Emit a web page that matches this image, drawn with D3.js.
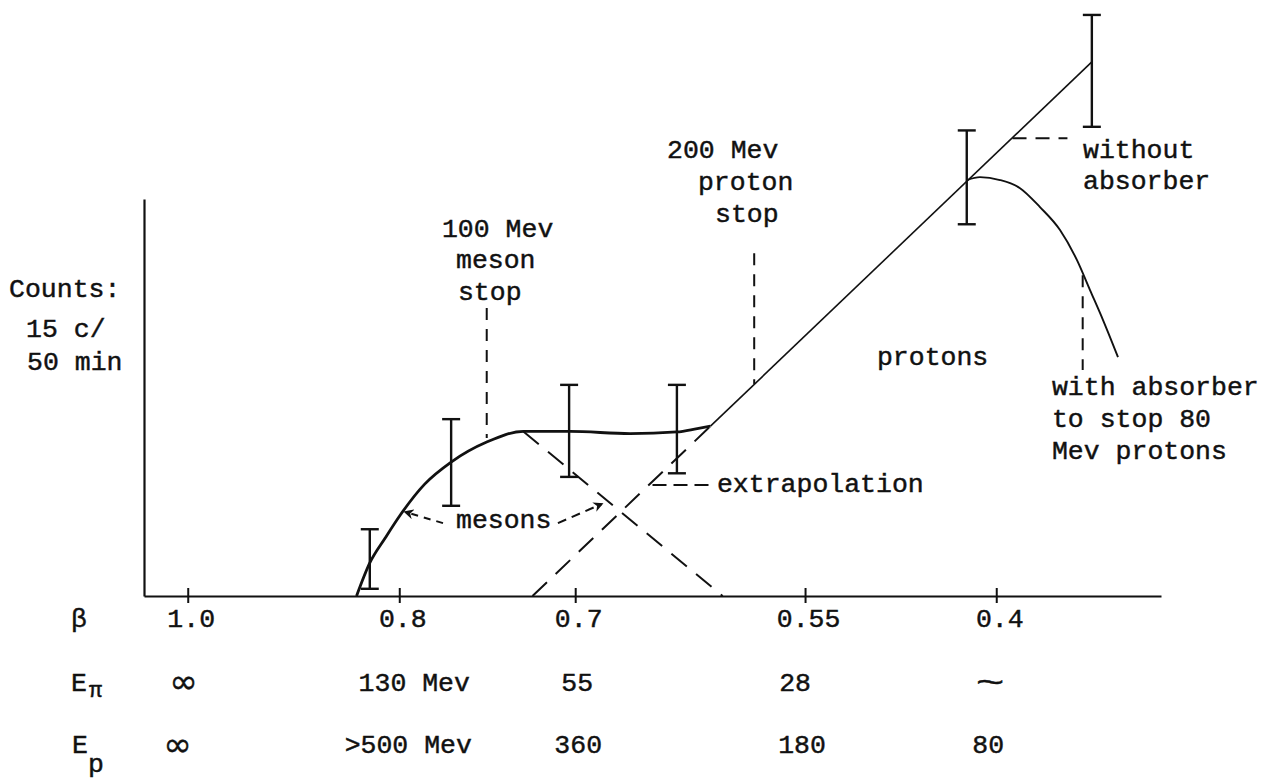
<!DOCTYPE html>
<html>
<head>
<meta charset="utf-8">
<script src="https://cdn.jsdelivr.net/npm/d3@7"></script>
<style>
  html, body { margin: 0; padding: 0; background: #fff; }
  svg { display: block; }
  text { font-family: "Liberation Mono", "DejaVu Sans Mono", monospace; fill: #111; stroke: #111; stroke-width: 0.45px; }
</style>
</head>
<body>
<svg id="chart" width="1266" height="779"></svg>
<script>
// ---------- DATA ----------
// x: absorber position (arbitrary units), y: counts per 50 min
const xTickVals   = [4.3, 25.1, 42.4, 65.0, 83.8];
const betaLabels  = ["1.0", "0.8", "0.7", "0.55", "0.4"];
const ePiLabels   = ["∞", "130 Mev", "55", "28", "~"];
const ePLabels    = ["∞", ">500 Mev", "360", "180", "80"];

// error bars
const ebX  = [22.2, 30.2, 41.8, 52.4, 80.9, 93.2];
const ebLo = [0.4, 5.0, 6.6, 6.8, 20.6, 26.0];
const ebHi = [3.7, 9.8, 11.7, 11.7, 25.8, 32.2];

// meson curve (solid, thick)
const mesonX = [20.9, 22.2, 23.7, 25.2, 27.6, 30.2, 33.7, 37.3, 41.9, 47.8, 52.4, 54.4, 55.7];
const mesonY = [0.0, 1.83, 3.2, 4.49, 6.2, 7.42, 8.53, 9.12, 9.12, 9.0, 9.09, 9.28, 9.41];

// meson extrapolation (dashed)
const mesonExtX = [37.3, 56.9];
const mesonExtY = [9.12, 0.0];

// proton line: dashed extrapolation then solid "without absorber"
const protonExtX = [38.2, 55.7];
const protonExtY = [0.0, 9.41];
const protonX = [55.7, 93.2];
const protonY = [9.41, 29.6];

// "with absorber" curve
const absX = [80.92, 82.2, 84.17, 86.14, 88.1, 90.07, 91.74, 93.02, 94.3, 95.77];
const absY = [23.05, 23.21, 23.05, 22.6, 21.55, 20.28, 18.61, 16.95, 15.29, 13.24];

// ---------- SETUP ----------
const svg = d3.select("#chart");
svg.append("rect").attr("width", 1266).attr("height", 779).attr("fill", "#fff");

const x = d3.scaleLinear().domain([0, 100]).range([144, 1161]);
const y = d3.scaleLinear().domain([0, 22]).range([596, 199]);
const FS = 26.5;
const ink = "#111";

const zip = (xs, ys) => xs.map((d, i) => [d, ys[i]]);
const line = d3.line().x(d => x(d[0])).y(d => y(d[1]));
const smooth = d3.line().x(d => x(d[0])).y(d => y(d[1])).curve(d3.curveMonotoneX);

// ---------- AXES ----------
const xAxis = d3.axisBottom(x).tickValues(xTickVals)
  .tickFormat((d, i) => betaLabels[i]).tickSizeInner(7).tickSizeOuter(0);
const gx = svg.append("g").attr("transform", `translate(0,${y(0)})`).call(xAxis);
gx.select(".domain").attr("stroke", ink).attr("stroke-width", 2.2);
gx.selectAll(".tick line").attr("stroke", ink).attr("stroke-width", 2).attr("y1", -8).attr("y2", 7);
gx.selectAll(".tick text").attr("y", 31).attr("dy", 0).attr("dx", 3)
  .style("font-size", FS + "px").style("font-family", '"Liberation Mono", monospace').attr("fill", ink);

const yAxis = d3.axisLeft(y).tickValues([]).tickSizeOuter(0);
const gy = svg.append("g").attr("transform", `translate(${x(0)},0)`).call(yAxis);
gy.select(".domain").attr("stroke", ink).attr("stroke-width", 2.2);

// ---------- ROW LABELS BELOW AXIS ----------
const rows = svg.append("g").style("font-size", FS + "px");
rows.append("text").attr("x", 71).attr("y", y(0) + 31).text("β");
rows.append("text").attr("x", 71).attr("y", y(0) + 95).text("E");
rows.append("text").attr("x", 89).attr("y", y(0) + 101).style("font-size", "22px").text("π");
rows.append("text").attr("x", 72).attr("y", y(0) + 157).text("E");
rows.append("text").attr("x", 88).attr("y", y(0) + 176).text("p");

const ePiDx = [-4, 15, 2, -10, -6];
const ePDx  = [-10, 9, 3, -3, -8];
ePiLabels.forEach((t, i) => {
  const el = rows.append("text").attr("text-anchor", "middle")
    .attr("x", x(xTickVals[i]) + ePiDx[i]).attr("y", y(0) + 95);
  if (t === "∞") el.style("font-family", '"DejaVu Sans", sans-serif').style("font-size", "34px").attr("y", y(0) + 97).text(t);
  else if (t === "~") el.attr("transform", `translate(${x(xTickVals[i]) + ePiDx[i]},${y(0) + 96}) scale(1.6,1)`)
    .attr("x", 0).attr("y", 0).style("font-size", "30px").text(t);
  else el.text(t);
});
ePLabels.forEach((t, i) => {
  const el = rows.append("text").attr("text-anchor", "middle")
    .attr("x", x(xTickVals[i]) + ePDx[i]).attr("y", y(0) + 157);
  if (t === "∞") el.style("font-family", '"DejaVu Sans", sans-serif').style("font-size", "34px").attr("y", y(0) + 160).text(t);
  else el.text(t);
});

// ---------- MARKS ----------
const plot = svg.append("g").attr("fill", "none").attr("stroke", ink);

// dashed extrapolations
plot.append("path").attr("d", line(zip(mesonExtX, mesonExtY)))
  .attr("stroke-width", 2).attr("stroke-dasharray", "20,12");
plot.append("path").attr("d", line(zip(protonExtX, protonExtY)))
  .attr("stroke-width", 2).attr("stroke-dasharray", "20,12");

// proton line (without absorber)
plot.append("path").attr("d", line(zip(protonX, protonY))).attr("stroke-width", 1.6);

// meson curve
plot.append("path").attr("d", smooth(zip(mesonX, mesonY))).attr("stroke-width", 2.8);

// with absorber curve
plot.append("path").attr("d", smooth(zip(absX, absY))).attr("stroke-width", 1.9);

// error bars
const eb = plot.append("g").attr("stroke-width", 2.4);
ebX.forEach((xv, i) => {
  eb.append("line").attr("x1", x(xv)).attr("x2", x(xv)).attr("y1", y(ebLo[i])).attr("y2", y(ebHi[i]));
  eb.append("line").attr("x1", x(xv) - 9).attr("x2", x(xv) + 9).attr("y1", y(ebLo[i])).attr("y2", y(ebLo[i]));
  eb.append("line").attr("x1", x(xv) - 9).attr("x2", x(xv) + 9).attr("y1", y(ebHi[i])).attr("y2", y(ebHi[i]));
});

// ---------- ANNOTATIONS ----------
const ann = svg.append("g").attr("fill", "none").attr("stroke", ink).attr("stroke-width", 2);
const dashV = "12,9";
// 100 Mev meson stop
ann.append("path").attr("d", line([[33.7, 15.96], [33.7, 8.75]])).attr("stroke-dasharray", dashV);
// 200 Mev proton stop
ann.append("path").attr("d", line([[60.0, 19.0], [60.0, 11.75]])).attr("stroke-dasharray", dashV);
// without absorber pointer
ann.append("path").attr("d", line([[85.4, 25.37], [90.8, 25.37]])).attr("stroke-dasharray", "14,9");
// with absorber pointer
ann.append("path").attr("d", line([[92.3, 17.78], [92.3, 12.52]])).attr("stroke-dasharray", dashV);
// extrapolation pointer
ann.append("path").attr("d", line([[50.0, 6.15], [56.1, 6.15]])).attr("stroke-dasharray", "14,7");

// mesons arrows
const defs = svg.append("defs");
defs.append("marker").attr("id", "ah").attr("viewBox", "0 0 10 10")
  .attr("refX", 8).attr("refY", 5).attr("markerWidth", 5).attr("markerHeight", 5)
  .attr("orient", "auto").attr("markerUnits", "strokeWidth")
  .append("path").attr("d", "M0,0 L10,5 L0,10 L3,5 Z").attr("fill", ink).attr("stroke", "none");
ann.append("path").attr("d", line([[29.4, 4.04], [25.7, 4.65]]))
  .attr("stroke-dasharray", "7,6").attr("marker-end", "url(#ah)");
ann.append("path").attr("d", line([[40.7, 4.04], [45.0, 5.10]]))
  .attr("stroke-dasharray", "9,6").attr("marker-end", "url(#ah)");

// text annotations (positions in data units)
const labels = [
  ["Counts:", -13.27, 16.57],
  ["15 c/", -11.6, 14.35],
  ["50 min", -11.5, 12.52],
  ["100 Mev", 29.3, 19.89],
  ["meson", 30.68, 18.17],
  ["stop", 30.87, 16.4],
  ["200 Mev", 51.43, 24.27],
  ["proton", 54.47, 22.49],
  ["stop", 56.15, 20.72],
  ["protons", 72.07, 12.8],
  ["without", 92.33, 24.27],
  ["absorber", 92.33, 22.55],
  ["with absorber", 89.28, 11.14],
  ["to stop 80", 89.28, 9.36],
  ["Mev protons", 89.28, 7.59],
  ["extrapolation", 56.34, 5.76],
  ["mesons", 30.68, 3.77]
];
svg.append("g").style("font-size", FS + "px").selectAll("text").data(labels).join("text")
  .attr("x", d => x(d[1])).attr("y", d => y(d[2])).text(d => d[0]);
</script>
</body>
</html>
